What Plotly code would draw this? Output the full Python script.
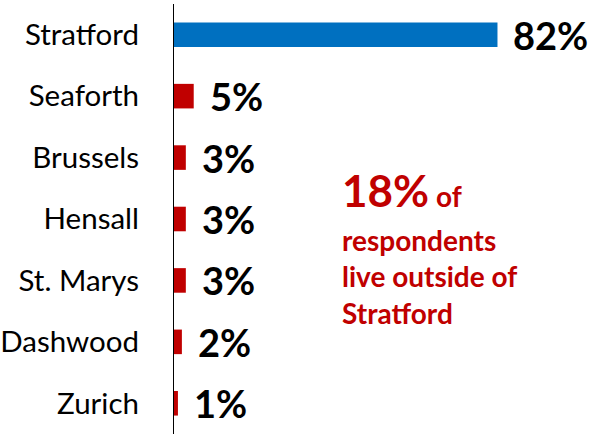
import plotly.graph_objects as go

# Where respondents live
towns = ["Stratford", "Seaforth", "Brussels", "Hensall", "St. Marys", "Dashwood", "Zurich"]
shares = [82, 5, 3, 3, 3, 2, 1]
bar_colors = ["#0070C0", "#C00000", "#C00000", "#C00000", "#C00000", "#C00000", "#C00000"]

# share living outside Stratford (as reported, before rounding of the towns)
outside_share = 18

FONT = "Lato"

fig = go.Figure(
    go.Bar(
        x=shares,
        y=towns,
        orientation="h",
        marker=dict(color=bar_colors, line=dict(width=0)),
        hoverinfo="skip",
    )
)

# value labels to the right of each bar
for town, v in zip(towns, shares):
    fig.add_annotation(
        x=v, y=town, xref="x", yref="y",
        text=f"<b>{v}%</b>",
        showarrow=False, xanchor="left", yanchor="middle",
        xshift=14,
        font=dict(family=FONT, size=38, color="black"),
    )

W, H = 603, 434
L, T = 168, 4


def px_to_paper(px, py):
    return (px - L) / (W - L), 1 - (py - T) / (H - T)


# call-out about respondents outside Stratford
x0, y0 = px_to_paper(336, 190)
fig.add_annotation(
    x=x0, y=y0, xref="paper", yref="paper",
    text=f"<b><span style='font-size:44px'>{outside_share}%</span> of</b>",
    showarrow=False, xanchor="left", yanchor="middle",
    font=dict(family=FONT, size=28, color="#C00000"),
)
x1, y1 = px_to_paper(336, 276)
fig.add_annotation(
    x=x1, y=y1, xref="paper", yref="paper",
    text="<b>respondents<br>live outside of<br>Stratford</b>",
    showarrow=False, xanchor="left", yanchor="middle", align="left",
    font=dict(family=FONT, size=28, color="#C00000"),
)

fig.update_layout(
    width=W, height=H,
    margin=dict(l=L, r=0, t=T, b=0),
    paper_bgcolor="white", plot_bgcolor="white",
    bargap=0.6,
    showlegend=False,
    xaxis=dict(range=[0, (W - L) / 4], visible=False),
    yaxis=dict(
        autorange="reversed",
        showline=True, linecolor="black", linewidth=1.2,
        showgrid=False, zeroline=False, ticks="",
        ticklabelstandoff=28,
        tickfont=dict(family=FONT, size=29.5, color="black"),
    ),
)

fig.write_html("out.html")
